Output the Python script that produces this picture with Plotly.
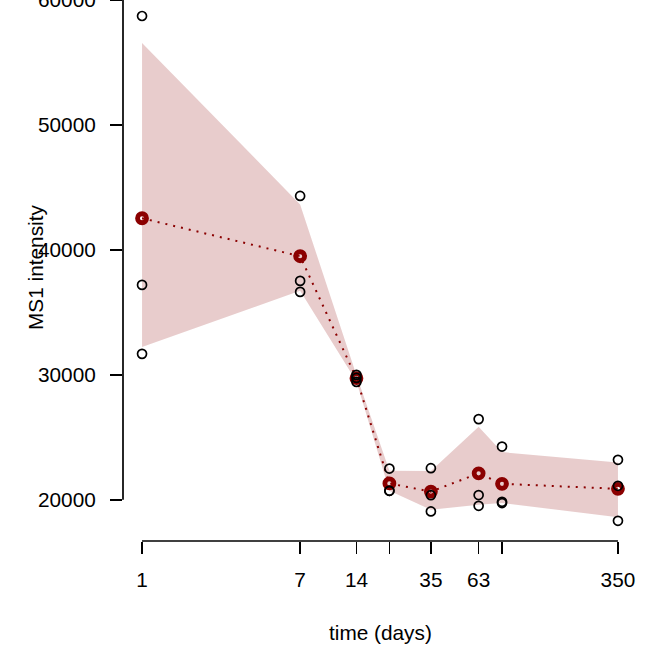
import numpy as np
import plotly.graph_objects as go

# ---- data ----
time_days = [1, 7, 14, 21, 35, 63, 84, 350]
rep1 = [58720, 44320, 30000, 22500, 22530, 26460, 24260, 23200]
rep2 = [37200, 37520, 29760, 20720, 20370, 20380, 19840, 21120]
rep3 = [31680, 36640, 29440, 20720, 19070, 19520, 19740, 18320]
x_tickvals = [1, 7, 14, 21, 35, 63, 84, 350]
x_ticktext = ["1", "7", "14", "", "35", "63", "", "350"]
y_tickvals = [20000, 30000, 40000, 50000, 60000]
y_ticktext = ["20000", "30000", "40000", "50000", "60000"]

reps = np.array([rep1, rep2, rep3], dtype=float)
mean_vals = reps.mean(axis=0)
lo_vals = np.quantile(reps, 0.05, axis=0)
hi_vals = np.quantile(reps, 0.95, axis=0)

FONT = "Liberation Sans, Arial, Helvetica, sans-serif"
FS = 20.8
DARKRED = "#8B0000"

fig = go.Figure()

# ribbon
fig.add_trace(go.Scatter(
    x=list(time_days) + list(time_days[::-1]),
    y=list(hi_vals) + list(lo_vals[::-1]),
    fill="toself", fillcolor="rgba(139,0,0,0.2)",
    line=dict(width=0), mode="lines", hoverinfo="skip", showlegend=False))

# mean line
fig.add_trace(go.Scatter(
    x=time_days, y=mean_vals, mode="lines",
    line=dict(color=DARKRED, width=2, dash="2px,6px"), showlegend=False))

# mean points
fig.add_trace(go.Scatter(
    x=time_days, y=mean_vals, mode="markers",
    marker=dict(symbol="circle-open", size=9, color=DARKRED,
                line=dict(color=DARKRED, width=4.8)), showlegend=False))

# replicate points
for r in (rep1, rep2, rep3):
    fig.add_trace(go.Scatter(
        x=time_days, y=r, mode="markers",
        marker=dict(symbol="circle-open", size=9, color="black",
                    line=dict(color="black", width=1.7)), showlegend=False))

lx0, lx1 = np.log10(x_tickvals[0]), np.log10(x_tickvals[-1])
ext = 0.04 * (lx1 - lx0)
xr = [lx0 - ext, lx1 + ext]
yr = [16704, 60000]

fig.update_xaxes(
    type="log", range=xr, showgrid=False, zeroline=False, showline=False,
    automargin=False,
    tickmode="array", tickvals=x_tickvals, ticktext=x_ticktext,
    ticks="outside", ticklen=12, tickwidth=1.7, tickcolor="black",
    ticklabelstandoff=8,
    tickfont=dict(family=FONT, size=FS, color="black"))
fig.update_yaxes(
    range=yr, showgrid=False, zeroline=False, showline=False,
    automargin=False, ticklabeloverflow="allow",
    tickmode="array", tickvals=y_tickvals, ticktext=y_ticktext,
    ticks="outside", ticklen=12, tickwidth=1.7, tickcolor="black",
    ticklabelstandoff=10,
    tickfont=dict(family=FONT, size=FS, color="black"))

# R-style axis lines spanning only the tick range (paper coords, unclipped)
px = lambda v: (np.log10(v) - xr[0]) / (xr[1] - xr[0])
py = lambda v: (v - yr[0]) / (yr[1] - yr[0])
fig.add_shape(type="line", xref="paper", yref="paper",
              x0=px(x_tickvals[0]), x1=px(x_tickvals[-1]), y0=0, y1=0,
              line=dict(color="black", width=1.7))
fig.add_shape(type="line", xref="paper", yref="paper",
              x0=0, x1=0, y0=py(y_tickvals[0]), y1=py(y_tickvals[-1]),
              line=dict(color="black", width=1.7))

fig.add_annotation(text="time (days)", xref="paper", yref="paper",
                   x=0.5, y=(541 - 632) / 541, xanchor="center", yanchor="middle",
                   showarrow=False, font=dict(family=FONT, size=FS, color="black"))
fig.add_annotation(text="MS1 intensity", xref="paper", yref="paper",
                   x=(35 - 123) / 514, y=1 - 268 / 541, textangle=-90,
                   xanchor="center", yanchor="middle",
                   showarrow=False, font=dict(family=FONT, size=FS, color="black"))

fig.update_layout(
    width=653, height=650,
    margin=dict(l=123, r=16, t=0, b=109),
    plot_bgcolor="white", paper_bgcolor="white",
    showlegend=False)

fig.write_html("out.html", config={"displayModeBar": False, "staticPlot": True},
               post_script="document.body.style.margin='0px';document.body.style.overflow='hidden';")
